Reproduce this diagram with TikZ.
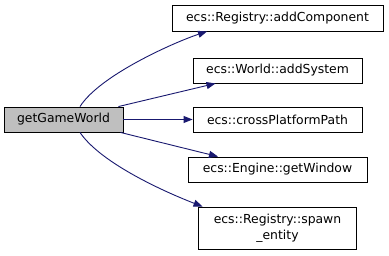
\documentclass[tikz,border=0pt]{standalone}
\usepackage{fontspec}
\setmainfont{DejaVu Sans}
\usetikzlibrary{arrows.meta}
\definecolor{edgeblue}{HTML}{191970}
\definecolor{nodegray}{HTML}{BFBFBF}
\begin{document}
\begin{tikzpicture}[x=1pt,y=-1pt,
  fn/.style={draw=black,line width=0.9pt,rectangle,inner sep=0pt,align=center,
    font=\fontsize{12.4}{16}\selectfont},
  call/.style={draw=edgeblue,line width=0.9pt,
    -{Triangle[length=9pt,width=7pt]},fill=none},
]
\useasboundingbox (0,0) rectangle (389,255);
\fill[white] (0,0) rectangle (389,255);

% caller
\node[fn,fill=nodegray,minimum width=119pt,minimum height=25pt] (g) at (63.5,119.5) {getGameWorld};

% callees
\node[fn,minimum width=211pt,minimum height=26pt] (a) at (277.5,18) {ecs::Registry::addComponent};
\node[fn,minimum width=169pt,minimum height=25pt] (b) at (277.5,70.5) {ecs::World::addSystem};
\node[fn,minimum width=169pt,minimum height=25pt] (c) at (277.5,119.5) {ecs::crossPlatformPath};
\node[fn,minimum width=179pt,minimum height=25pt] (d) at (277.5,169.5) {ecs::Engine::getWindow};
\node[fn,minimum width=158pt,minimum height=42pt] (e) at (277.5,228) {ecs::Registry::spawn\\\_entity};

% calls
\draw[call] ([xshift=16.5pt]g.north) .. controls (100,75) and (175,42) .. ([xshift=-70.5pt]a.south);
\draw[call] ([xshift=-5pt]g.north east) -- ([xshift=-62pt]b.south);
\draw[call] (g.east) -- (c.west);
\draw[call] ([xshift=-3pt]g.south east) -- ([xshift=-59.5pt]d.north);
\draw[call] ([xshift=16.5pt]g.south) .. controls (100,162) and (160,190) .. ([xshift=4.5pt]e.north west);
\end{tikzpicture}
\end{document}
